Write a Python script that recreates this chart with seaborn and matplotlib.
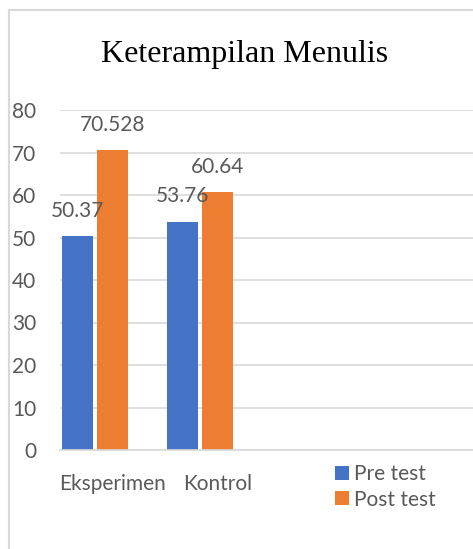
import pandas as pd
import seaborn as sns
import matplotlib.pyplot as plt
from matplotlib.patches import Patch, Rectangle

# data
kelompok = ['Eksperimen', 'Kontrol']
pre_test = [50.37, 53.76]
post_test = [70.528, 60.64]
seri = ['Pre test', 'Post test']
warna = ['#4472C4', '#ED7D31']
yticks = [0, 10, 20, 30, 40, 50, 60, 70, 80]
judul = 'Keterampilan Menulis'

df = pd.DataFrame({
    'kelompok': kelompok * 2,
    'seri': [seri[0]] * len(kelompok) + [seri[1]] * len(kelompok),
    'nilai': pre_test + post_test,
})

plt.rcParams['font.family'] = ['Lato', 'DejaVu Sans']
abu = '#595959'

fig = plt.figure(figsize=(4.73, 5.49), dpi=100)
ax = fig.add_axes([60 / 473, 99 / 549, 413 / 473, 340 / 549])

# third (empty) hue slot keeps the Excel-like spacing of the bars
hue_order = seri + ['_kosong']
palet = {seri[0]: warna[0], seri[1]: warna[1], '_kosong': 'white'}
sns.barplot(data=df, x='kelompok', y='nilai', hue='seri', hue_order=hue_order,
            order=kelompok, palette=palet, saturation=1, width=1.0, gap=0.1,
            linewidth=0, legend=False, ax=ax)

for c in ax.containers:
    if len(c) > 0:
        ax.bar_label(c, fmt='%g', padding=11, fontsize=15, color=abu)

ax.set_xlim(-0.5, -0.5 + 413 / 105)
ax.set_ylim(0, 80)
ax.set_yticks(yticks)
ax.set_xlabel('')
ax.set_ylabel('')
ax.grid(axis='y', color='#D9D9D9', linewidth=1.2)
ax.set_axisbelow(True)
for s in ['top', 'right', 'left']:
    ax.spines[s].set_visible(False)
ax.spines['bottom'].set_color('#D9D9D9')
ax.spines['bottom'].set_linewidth(1.2)
ax.tick_params(axis='y', length=0, pad=17, labelsize=15, labelcolor=abu)
ax.tick_params(axis='x', length=0, pad=17, labelsize=15, labelcolor=abu)

handles = [Patch(facecolor=warna[i], label=seri[i]) for i in range(2)]
fig.legend(handles=handles, loc='upper left', bbox_to_anchor=(325 / 473, 1 - 454 / 549),
           frameon=False, fontsize=15, labelcolor=abu, handlelength=0.67,
           handleheight=0.67, handletextpad=0.2, labelspacing=0.25, borderpad=0)

fig.text(245 / 473, 1 - 62 / 549, judul, family=['Liberation Serif', 'DejaVu Serif'],
         fontsize=23, ha='center', va='baseline', color='black')

fig.add_artist(Rectangle((9 / 473, -0.1), 2, 1.1 - 10 / 549, transform=fig.transFigure,
                         fill=False, edgecolor='#D9D9D9', linewidth=1.5))

fig.savefig('out.png', dpi=100)
